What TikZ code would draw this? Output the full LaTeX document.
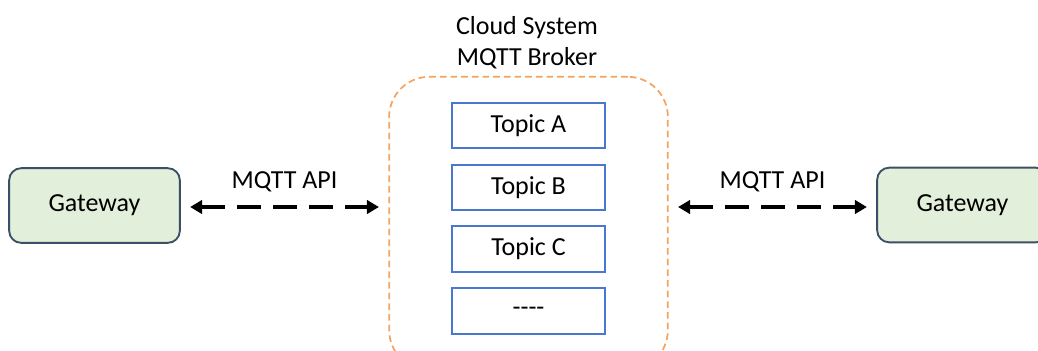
\documentclass[tikz,border=0pt]{standalone}
\usepackage{fontspec}
\setmainfont{Carlito}
\usetikzlibrary{arrows.meta}

\definecolor{gwfill}{HTML}{E2EFDA}
\definecolor{gwline}{HTML}{3B4F66}
\definecolor{brokerline}{HTML}{F4A460}
\definecolor{topicline}{HTML}{4A78D0}

\begin{document}
\begin{tikzpicture}[x=0.75pt, y=-0.75pt,
    font=\fontsize{19.5}{23}\selectfont,
    gateway/.style={draw=gwline, line width=1.4pt, fill=gwfill, rounded corners=9pt,
        minimum width=128pt, minimum height=56pt},
    topic/.style={draw=topicline, line width=1.3pt, fill=white,
        minimum width=115pt, minimum height=34pt},
    link/.style={line width=3.2pt, dash pattern=on 18pt off 9pt,
        {Triangle[length=9pt,width=10pt]}-{Triangle[length=9pt,width=10pt]},
        shorten <=7pt, shorten >=7pt}]
    % Fix the page size
    \useasboundingbox (0,0) rectangle (1038,350);
    \clip (0,0) rectangle (1038,350);

    % Broker container, cut off at the bottom
    \node[draw=brokerline, line width=1.3pt, dash pattern=on 5pt off 3pt,
        rounded corners=30pt, minimum width=209pt, minimum height=220pt]
        (broker) at (528.5,223.5) {};
    \node[align=center, anchor=south, inner sep=2pt] (title) at (527,72)
        {Cloud System\\MQTT Broker};

    % Topics inside the broker
    \node[topic] (topicA) at (528.5,125.5) {Topic A};
    \node[topic] (topicB) at (528.5,187.5) {Topic B};
    \node[topic] (topicC) at (528.5,249) {Topic C};
    \node[topic] (topicD) at (528.5,311) {{-}{-}{-}{-}};

    % Gateways on both sides
    \node[gateway] (gwL) at (94.5,205.5) {Gateway};
    \node[gateway] (gwR) at (962.5,205) {Gateway};

    % MQTT links
    \draw[link] (gwL.east |- 0,207) -- (broker.west |- 0,207)
        node[midway, above=6pt] (apiL) {MQTT API};
    \draw[link] (broker.east |- 0,207) -- (gwR.west |- 0,207)
        node[midway, above=6pt] (apiR) {MQTT API};

\end{tikzpicture}
\end{document}
